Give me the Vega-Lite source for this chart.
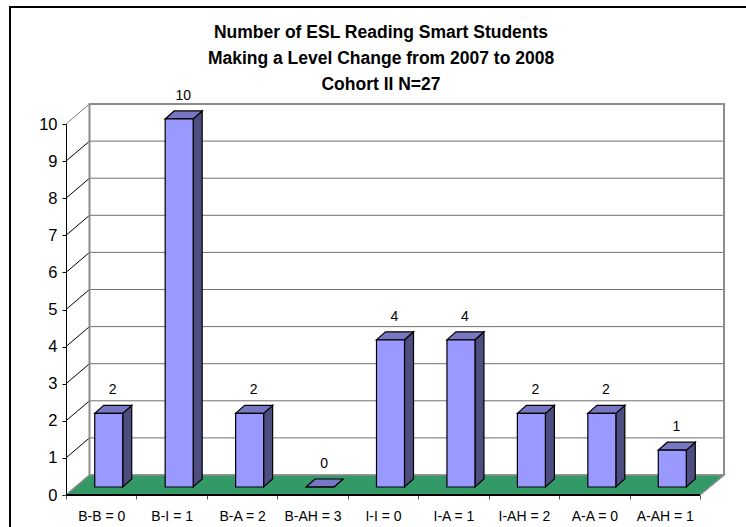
{
"$schema":"https://vega.github.io/schema/vega-lite/v6.json",
"width":634,"height":371,
"autosize":"none",
"padding":{"left":66,"top":124,"right":46,"bottom":32},
"background":"white",
"title":{"text":["Number of ESL Reading Smart Students","Making a Level Change from 2007 to 2008","Cohort II N=27"],"font":"Liberation Sans","fontSize":17.5,"fontWeight":"bold","lineHeight":26,"anchor":"middle","dx":-2,"offset":-90,"color":"black"},
"config":{"view":{"stroke":null},"font":"Liberation Sans"},
"datasets":{
"bars":[
{"category":"B-B = 0","students":2},
{"category":"B-I = 1","students":10},
{"category":"B-A = 2","students":2},
{"category":"B-AH = 3","students":0},
{"category":"I-I = 0","students":4},
{"category":"I-A = 1","students":4},
{"category":"I-AH = 2","students":2},
{"category":"A-A = 0","students":2},
{"category":"A-AH = 1","students":1}],
"ticks":[{"t":0},{"t":1},{"t":2},{"t":3},{"t":4},{"t":5},{"t":6},{"t":7},{"t":8},{"t":9},{"t":10}],
"one":[{"t":0}]
},
"resolve":{"scale":{"y":"independent"},"axis":{"y":"independent"}},
"layer":[
{"data":{"name":"one"},
 "mark":{"type":"point","filled":false,"size":4,"opacity":1,"stroke":"black","strokeWidth":2,"shape":"M-373,40L-373,-488L380,-488L380,40"},
 "encoding":{"y":{"field":"t","type":"quantitative","scale":{"domain":[0,10]},"axis":null}}},
{"data":{"name":"ticks"},
 "mark":{"type":"point","filled":false,"size":4,"opacity":1,"stroke":"#707070","strokeWidth":1,"shape":"M-293.5,-20L341,-20"},
 "encoding":{"y":{"field":"t","type":"quantitative","scale":{"domain":[0,10]},"axis":{"orient":"left","values":[0,1,2,3,4,5,6,7,8,9,10],"title":null,"grid":false,"domainColor":"black","domainWidth":1,"tickColor":"black","tickSize":4,"labelFontSize":16.5,"labelColor":"black","labelPadding":5,"labelFont":"Liberation Sans"}}}},
{"data":{"name":"ticks"},
 "mark":{"type":"point","filled":false,"size":4,"opacity":1,"strokeWidth":1,"shape":"M-317,0L-293.5,-20"},
 "encoding":{"y":{"field":"t","type":"quantitative","scale":{"domain":[0,10]},"axis":null},
 "stroke":{"field":"t","type":"ordinal","legend":null,"scale":{"domain":[0,1,2,3,4,5,6,7,8,9,10],"range":["#808080","black","black","black","black","black","black","black","black","black","#808080"]}}}},
{"data":{"name":"one"},
 "mark":{"type":"point","filled":false,"size":4,"opacity":1,"stroke":"#8c8c8c","strokeWidth":2,"shape":"M-293.5,-20L-293.5,-391L341,-391L341,-20"},
 "encoding":{"y":{"field":"t","type":"quantitative","scale":{"domain":[0,10]},"axis":null}}},
{"data":{"name":"one"},
 "mark":{"type":"point","filled":true,"size":4,"opacity":1,"fill":"#339966","stroke":"#8c8c8c","strokeWidth":1.5,"shape":"M-317,0L-293.5,-20L341,-20L317,0Z"},
 "encoding":{"y":{"field":"t","type":"quantitative","scale":{"domain":[0,10]},"axis":null}}},
{"data":{"name":"one"},
 "mark":{"type":"point","filled":false,"size":4,"opacity":1,"stroke":"black","strokeWidth":2,"shape":"M-317,0L317,0"},
 "encoding":{"y":{"field":"t","type":"quantitative","scale":{"domain":[0,10]},"axis":null}}},
{"data":{"name":"bars"},
 "mark":{"type":"point","filled":true,"size":4,"opacity":1,"fill":"#4d4d80","stroke":"black","strokeWidth":1.2},
 "encoding":{
 "x":{"field":"category","type":"nominal","sort":null,"scale":{"type":"band","paddingInner":0,"paddingOuter":0},"axis":{"title":null,"labelAngle":0,"labelFontSize":14,"labelColor":"black","labelFont":"Liberation Sans","labelPadding":10,"tickBand":"extent","tickSize":4,"tickColor":"#555555","domain":false}},
 "y":{"field":"students","type":"quantitative","scale":{"domain":[0,10.08]},"axis":null},
 "shape":{"field":"students","type":"ordinal","legend":null,"scale":{"domain":[0,1,2,4,10],"range":["M21.5,-8L30.5,-16L30.5,-16L21.5,-8Z","M21.5,-8L30.5,-16L30.5,20.8L21.5,28.8Z","M21.5,-8L30.5,-16L30.5,57.6L21.5,65.6Z","M21.5,-8L30.5,-16L30.5,131.2L21.5,139.2Z","M21.5,-8L30.5,-16L30.5,352L21.5,360Z"]}}}},
{"data":{"name":"bars"},
 "mark":{"type":"point","filled":true,"size":4,"opacity":1,"fill":"#7777c4","stroke":"black","strokeWidth":1.2,"shape":"M-6.5,-8L21.5,-8L30.5,-16L2.5,-16Z"},
 "encoding":{
 "x":{"field":"category","type":"nominal","sort":null},
 "y":{"field":"students","type":"quantitative","scale":{"domain":[0,10.08]},"axis":null}}},
{"data":{"name":"bars"},
 "mark":{"type":"bar","size":28,"fill":"#9999ff","stroke":"black","strokeWidth":1.2,"xOffset":7.5,"yOffset":-8,"y2Offset":-8},
 "encoding":{
 "x":{"field":"category","type":"nominal","sort":null},
 "y":{"field":"students","type":"quantitative","scale":{"domain":[0,10.08]},"axis":null}}},
{"data":{"name":"bars"},
 "mark":{"type":"text","fontSize":14,"font":"Liberation Sans","color":"black","dx":11.5,"dy":-31,"baseline":"middle"},
 "encoding":{
 "x":{"field":"category","type":"nominal","sort":null},
 "y":{"field":"students","type":"quantitative","scale":{"domain":[0,10.08]},"axis":null},
 "text":{"field":"students","type":"quantitative"}}}
]
}
